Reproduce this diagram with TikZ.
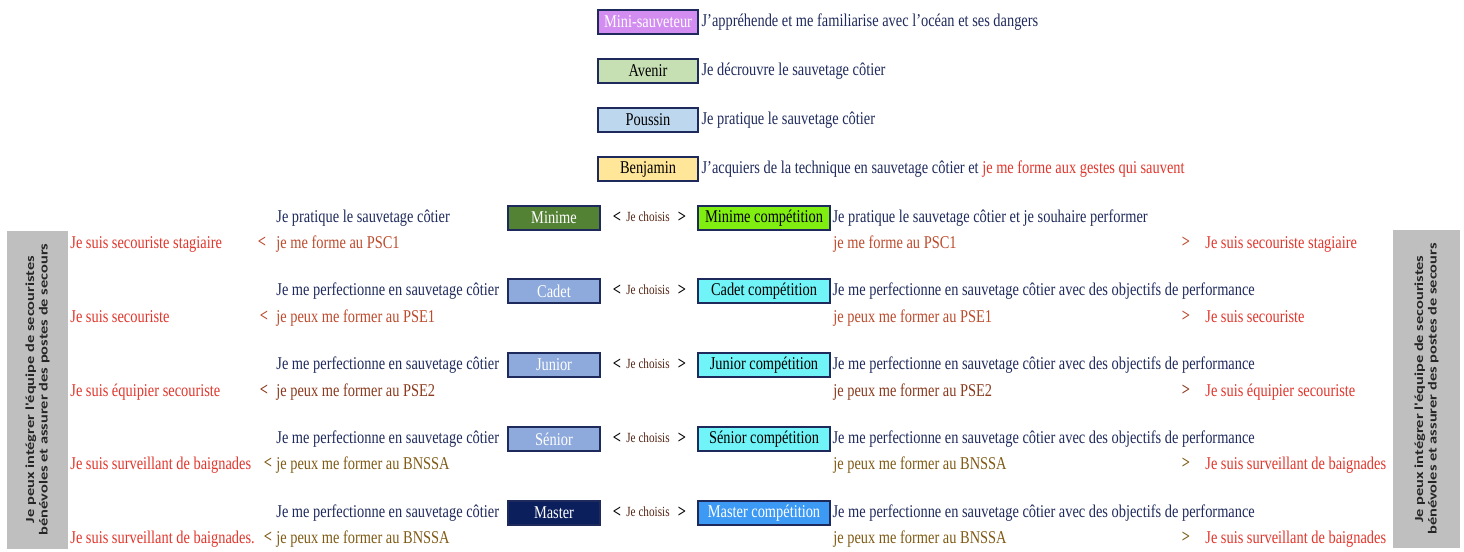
\documentclass[tikz,border=0pt]{standalone}
\usepackage{fontspec}
\setmainfont{Liberation Serif}[FakeStretch=0.8]
\newfontfamily\barfont{Carlito}
\usetikzlibrary{positioning}

\definecolor{marine}{HTML}{1F2A5C}
\definecolor{rouge}{HTML}{E0362C}
\definecolor{brique}{HTML}{BC4A2C}
\definecolor{brun}{HTML}{8A3A1E}
\definecolor{olive}{HTML}{7F5A14}
\definecolor{gris}{HTML}{BFBFBF}
\definecolor{violet}{HTML}{D38CF0}
\definecolor{vertclair}{HTML}{C6E0B4}
\definecolor{bleuclair}{HTML}{BDD7EE}
\definecolor{jaune}{HTML}{FFE699}
\definecolor{vertfonce}{HTML}{548235}
\definecolor{pervenche}{HTML}{8EA9DB}
\definecolor{navy}{HTML}{0B1F5C}
\definecolor{lime}{HTML}{80EE10}
\definecolor{cyan}{HTML}{70F4F8}
\definecolor{azur}{HTML}{3C9AF5}

\tikzset{
	cat/.style={draw=marine, line width=1.2pt, minimum height=12pt, inner sep=0pt, font=\fontsize{9}{10}\selectfont},
	haut/.style={cat, minimum width=50pt},
	loisir/.style={cat, minimum width=46pt, text=white},
	compet/.style={cat, minimum width=66pt},
	txt/.style={anchor=west, inner sep=0pt, font=\fontsize{9}{10}\selectfont, text height=6.5pt, text depth=2pt},
	fleche/.style={inner sep=0pt, font=\bfseries\fontsize{9}{10}\selectfont},
	choix/.style={inner sep=0pt, font=\fontsize{7}{8}\selectfont, text=brun!60!black},
	bande/.style={fill=gris, rotate=90, yscale=0.75, align=center, inner sep=0pt, minimum width=159pt, text=black!85,
		font=\barfont\bfseries\fontsize{8.2}{9}\selectfont},
}

\begin{document}
\begin{tikzpicture}[x=0.5pt, y=-0.5pt]
	\useasboundingbox (0,0) rectangle (1464,552);
	% categories loisir du haut
	\node[haut, fill=violet, text=white] (mini) at (648,22) {Mini-sauveteur};
	\node[haut, fill=vertclair] (avenir) at (648,71) {Avenir};
	\node[haut, fill=bleuclair] (poussin) at (648,120) {Poussin};
	\node[haut, fill=jaune] (benjamin) at (648,169) {Benjamin};
	\node[txt, text=marine, right=1pt of mini] (miniT) {J'appréhende et me familiarise avec l'océan et ses dangers};
	\node[txt, text=marine, right=1pt of avenir] (avenirT) {Je décrouvre le sauvetage côtier};
	\node[txt, text=marine, right=1pt of poussin] (poussinT) {Je pratique le sauvetage côtier};
	\node[txt, text=marine, right=1pt of benjamin] (benjaminT) {J'acquiers de la technique en sauvetage côtier et \textcolor{rouge}{je me forme aux gestes qui sauvent}};

	% bandes laterales
	\node[bande, minimum height=40.7pt] (bandeG) at (37.5,389.5) {Je peux intégrer l'équipe de secouristes\\bénévoles et assurer des postes de secours};
	\node[bande, minimum height=44.7pt] (bandeD) at (1426.5,389) {Je peux intégrer l'équipe de secouristes\\bénévoles et assurer des postes de secours};

	% Minime
	\node[loisir, fill=vertfonce] (minime) at (554,218) {Minime};
	\node[compet, fill=lime] (minimeC) at (764,218) {Minime compétition};
	\node[fleche] at (617,217) {<}; \node[choix] (minimeX) at (648,217) {Je choisis}; \node[fleche] at (682,217) {>};
	\node[txt, text=marine] (minimeG) at (276,218) {Je pratique le sauvetage côtier};
	\node[txt, text=marine, right=0.5pt of minimeC] (minimeD) {Je pratique le sauvetage côtier et je souhaire performer};
	\node[txt, text=rouge] (minimeS) at (70,244) {Je suis secouriste stagiaire};
	\node[fleche, text=brique] at (262,242) {<};
	\node[txt, text=brique] (minimeF) at (276,244) {je me forme au PSC1};
	\node[txt, text=brique] (minimeFD) at (833,244) {je me forme au PSC1};
	\node[fleche, text=brique] at (1186,242) {>};
	\node[txt, text=rouge] (minimeSD) at (1205,244) {Je suis secouriste stagiaire};

	% Cadet
	\node[loisir, fill=pervenche] (cadet) at (554,291) {Cadet};
	\node[compet, fill=cyan] (cadetC) at (764,291) {Cadet compétition};
	\node[fleche] at (617,290) {<}; \node[choix] (cadetX) at (648,290) {Je choisis}; \node[fleche] at (682,290) {>};
	\node[txt, text=marine] (cadetG) at (276,291) {Je me perfectionne en sauvetage côtier};
	\node[txt, text=marine, right=0.5pt of cadetC] (cadetD) {Je me perfectionne en sauvetage côtier avec des objectifs de performance};
	\node[txt, text=rouge] (cadetS) at (70,318) {Je suis secouriste};
	\node[fleche, text=brique] at (264,316) {<};
	\node[txt, text=brique] (cadetF) at (276,318) {je peux me former au PSE1};
	\node[txt, text=brique] (cadetFD) at (833,318) {je peux me former au PSE1};
	\node[fleche, text=brique] at (1186,316) {>};
	\node[txt, text=rouge] (cadetSD) at (1205,318) {Je suis secouriste};

	% Junior
	\node[loisir, fill=pervenche] (junior) at (554,365) {Junior};
	\node[compet, fill=cyan] (juniorC) at (764,365) {Junior compétition};
	\node[fleche] at (617,364) {<}; \node[choix] (juniorX) at (648,364) {Je choisis}; \node[fleche] at (682,364) {>};
	\node[txt, text=marine] (juniorG) at (276,365) {Je me perfectionne en sauvetage côtier};
	\node[txt, text=marine, right=0.5pt of juniorC] (juniorD) {Je me perfectionne en sauvetage côtier avec des objectifs de performance};
	\node[txt, text=rouge] (juniorS) at (70,392) {Je suis équipier secouriste};
	\node[fleche, text=brun] at (264,390) {<};
	\node[txt, text=brun] (juniorF) at (276,392) {je peux me former au PSE2};
	\node[txt, text=brun] (juniorFD) at (833,392) {je peux me former au PSE2};
	\node[fleche, text=brun] at (1186,390) {>};
	\node[txt, text=rouge] (juniorSD) at (1205,392) {Je suis équipier secouriste};

	% Senior
	\node[loisir, fill=pervenche] (senior) at (554,439) {Sénior};
	\node[compet, fill=cyan] (seniorC) at (764,439) {Sénior compétition};
	\node[fleche] at (617,438) {<}; \node[choix] (seniorX) at (648,438) {Je choisis}; \node[fleche] at (682,438) {>};
	\node[txt, text=marine] (seniorG) at (276,439) {Je me perfectionne en sauvetage côtier};
	\node[txt, text=marine, right=0.5pt of seniorC] (seniorD) {Je me perfectionne en sauvetage côtier avec des objectifs de performance};
	\node[txt, text=rouge] (seniorS) at (70,465) {Je suis surveillant de baignades};
	\node[fleche, text=olive] at (268,463) {<};
	\node[txt, text=olive] (seniorF) at (276,465) {je peux me former au BNSSA};
	\node[txt, text=olive] (seniorFD) at (833,465) {je peux me former au BNSSA};
	\node[fleche, text=olive] at (1186,463) {>};
	\node[txt, text=rouge] (seniorSD) at (1205,465) {Je suis surveillant de baignades};

	% Master
	\node[loisir, fill=navy] (master) at (554,513) {Master};
	\node[compet, fill=azur, text=white] (masterC) at (764,513) {Master compétition};
	\node[fleche] at (617,512) {<}; \node[choix] (masterX) at (648,512) {Je choisis}; \node[fleche] at (682,512) {>};
	\node[txt, text=marine] (masterG) at (276,513) {Je me perfectionne en sauvetage côtier};
	\node[txt, text=marine, right=0.5pt of masterC] (masterD) {Je me perfectionne en sauvetage côtier avec des objectifs de performance};
	\node[txt, text=rouge] (masterS) at (70,539) {Je suis surveillant de baignades.};
	\node[fleche, text=olive] at (268,537) {<};
	\node[txt, text=olive] (masterF) at (276,539) {je peux me former au BNSSA};
	\node[txt, text=olive] (masterFD) at (833,539) {je peux me former au BNSSA};
	\node[fleche, text=olive] at (1186,537) {>};
	\node[txt, text=rouge] (masterSD) at (1205,539) {Je suis surveillant de baignades};
\end{tikzpicture}
\end{document}
